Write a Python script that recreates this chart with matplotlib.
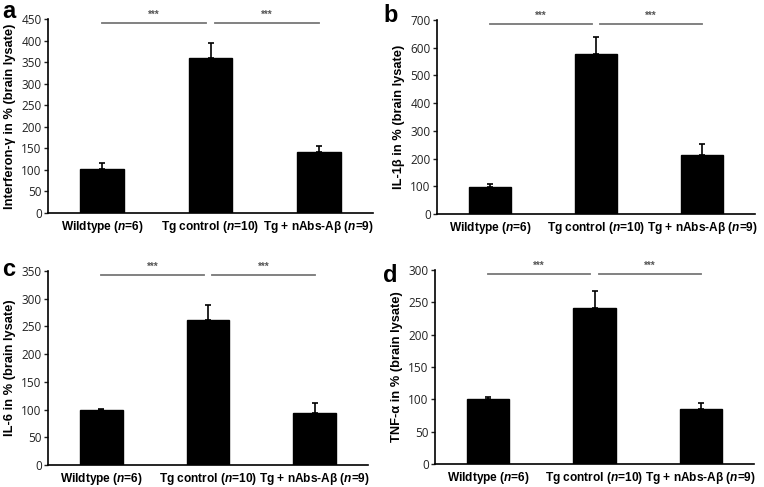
import numpy as np
import matplotlib
matplotlib.use("Agg")
import matplotlib.pyplot as plt
import matplotlib.transforms as mtransforms

plt.rcParams['font.family'] = ['Liberation Sans', 'DejaVu Sans']
plt.rcParams['mathtext.fontset'] = 'custom'
plt.rcParams['mathtext.it'] = 'Liberation Sans:italic:bold'
plt.rcParams['mathtext.rm'] = 'Liberation Sans:bold'

groups = ["Wildtype ($n$=6)", "Tg control ($n$=10)", "Tg + nAbs-Aβ ($n$=9)"]

ifn_mean = [101, 359, 142]
ifn_err = [14, 35, 14]
il1b_mean = [97, 578, 214]
il1b_err = [11, 59, 39]
il6_mean = [99, 262, 93]
il6_err = [2, 27, 19]
tnf_mean = [101, 242, 85]
tnf_err = [2, 25, 10]

panels = [
    ("a", "Interferon-γ in % (brain lysate)", ifn_mean, ifn_err, 450, 50),
    ("b", "IL-1β in % (brain lysate)", il1b_mean, il1b_err, 700, 100),
    ("c", "IL-6 in % (brain lysate)", il6_mean, il6_err, 350, 50),
    ("d", "TNF-α in % (brain lysate)", tnf_mean, tnf_err, 300, 50),
]

W, H = 764, 487
# axes rectangles in pixels: left, top, right, bottom
rects = [(48, 19, 373, 213), (437, 20, 755, 214),
         (48, 271, 368, 465), (435, 270, 754, 464)]
letter_pos = [(2, 0), (383, 4), (2, 258), (383, 264)]

fig = plt.figure(figsize=(W / 100, H / 100), dpi=100)
x = np.arange(len(groups))

for (letter, ylab, mean, err, ymax, step), (l, t, r, b), (lx, ly) in zip(panels, rects, letter_pos):
    ax = fig.add_axes([l / W, 1 - b / H, (r - l) / W, (b - t) / H])
    ax.bar(x, mean, width=0.4, color="black", edgecolor="black")
    ax.errorbar(x, mean, yerr=[np.zeros(len(err)), err], fmt="none",
                ecolor="black", elinewidth=1.2, capsize=2.2, capthick=1.2)
    ax.set_xlim(-0.5, 2.5)
    ax.set_ylim(0, ymax)
    ax.set_yticks(np.arange(0, ymax + 1, step))
    ax.set_xticks(x)
    ax.set_xticklabels(groups, fontsize=8.6, fontweight="bold")
    ax.tick_params(axis="x", length=0, pad=4)
    ax.tick_params(axis="y", length=3, width=1, pad=1.5, labelsize=8.5, colors="#222222")
    for lab in ax.get_yticklabels():
        lab.set_family("Open Sans")
    for s in ["top", "right"]:
        ax.spines[s].set_visible(False)
    for s in ["left", "bottom"]:
        ax.spines[s].set_linewidth(1.2)
    ax.set_ylabel(ylab, fontsize=9.3, fontweight="bold", labelpad=4)

    # significance bars
    trans = mtransforms.blended_transform_factory(ax.transData, ax.transAxes)
    for x0, x1 in [(0, 0.96), (1.04, 2)]:
        ax.plot([x0, x1], [0.98, 0.98], color="#777777", lw=1.3,
                transform=trans, clip_on=False)
        ax.text((x0 + x1) / 2, 0.995, "***", transform=trans, ha="center",
                va="bottom", fontsize=7, color="#555555", fontweight="bold")

    fig.text(lx / W, 1 - ly / H, letter, fontsize=17, fontweight="bold",
             ha="left", va="top")

fig.savefig("out.png", dpi=100)
